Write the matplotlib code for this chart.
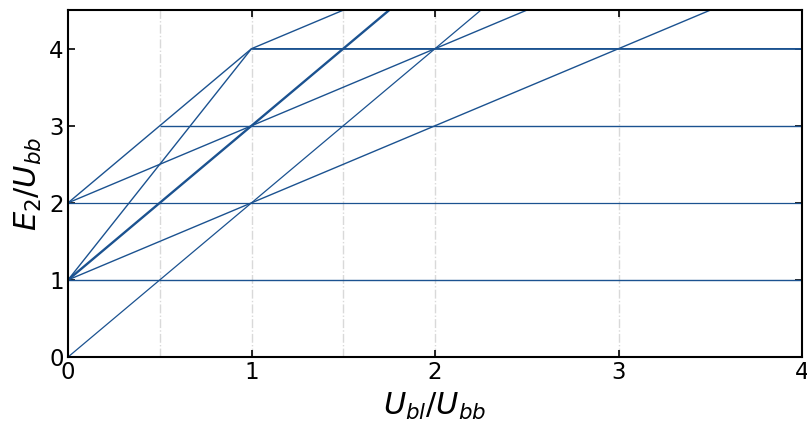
import matplotlib
matplotlib.use("Agg")
import matplotlib.pyplot as plt

# Energy-level segments (x = U_bl/U_bb, y = E_2/U_bb)
seg_A_x = [0, 0.5, 1, 1.5]
seg_A_y = [2, 3, 4, 4.5]
seg_B_x = [0.5, 4]
seg_B_y = [3, 3]
seg_C_x = [0, 1, 4]
seg_C_y = [1, 4, 4]
seg_D_x = [0, 2.5]
seg_D_y = [2, 4.5]
seg_E_x = [0, 1.75]
seg_E_y = [1, 4.5]
seg_F_x = [0, 3.5]
seg_F_y = [1, 4.5]
seg_G_x = [0, 2.25]
seg_G_y = [0, 4.5]
seg_H1_x = [0, 4]
seg_H1_y = [1, 1]
seg_H2_x = [0, 4]
seg_H2_y = [2, 2]

grid_x = [0.5, 1, 1.5, 2, 3]
xticks = [0, 1, 2, 3, 4]
yticks = [0, 1, 2, 3, 4]

color = '#1b5290'

fig = plt.figure(figsize=(8.07, 4.23), dpi=100)
ax = fig.add_axes([0.0843, 0.156, 0.9095, 0.820])

for gx in grid_x:
    ax.axvline(gx, color='#d9d9d9', lw=1.0, ls='-.', zorder=0)

segs = [(seg_A_x, seg_A_y, 1.0), (seg_B_x, seg_B_y, 1.0), (seg_C_x, seg_C_y, 1.0),
        (seg_D_x, seg_D_y, 1.0), (seg_E_x, seg_E_y, 1.7), (seg_F_x, seg_F_y, 1.0),
        (seg_G_x, seg_G_y, 0.9), (seg_H1_x, seg_H1_y, 1.0), (seg_H2_x, seg_H2_y, 0.9)]
for sx, sy, lw in segs:
    ax.plot(sx, sy, color=color, lw=lw, solid_capstyle='butt')
# y=4 appears slightly heavier
ax.plot(seg_C_x[1:], seg_C_y[1:], color=color, lw=0.6)

ax.set_xlim(0, 4)
ax.set_ylim(0, 4.5)
ax.set_xticks(xticks)
ax.set_yticks(yticks)
ax.tick_params(direction='in', top=True, right=True, labelsize=16.5, length=5, width=1.2, pad=3)
for s in ax.spines.values():
    s.set_linewidth(1.5)
ax.set_xlabel(r'$U_{bl}/U_{bb}$', fontsize=22, labelpad=5)
ax.set_ylabel(r'$E_2/U_{bb}$', fontsize=22, labelpad=4)

fig.savefig('out.png', dpi=100)
